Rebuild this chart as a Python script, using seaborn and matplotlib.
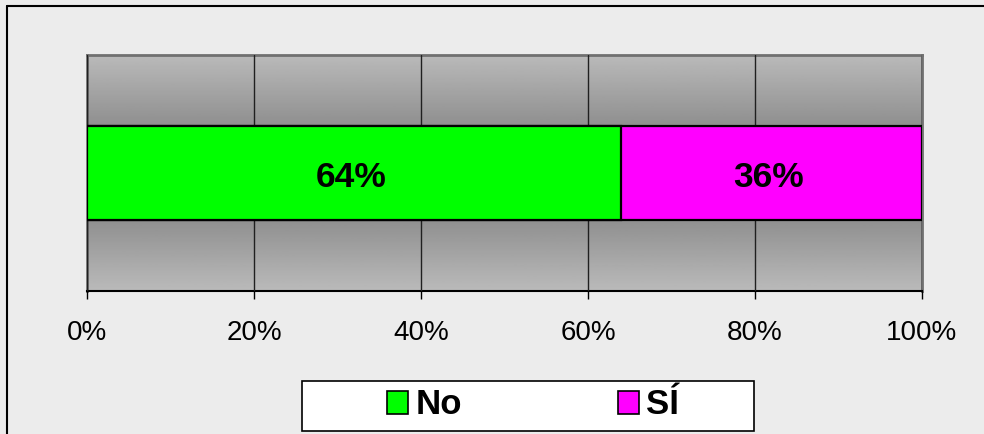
import numpy as np
import pandas as pd
import seaborn as sns
import matplotlib.pyplot as plt
from matplotlib.patches import Patch, Rectangle

# data
categories = ["No", "SÍ"]
percent = [64, 36]
colors = ["#00ff00", "#ff00ff"]
xticks = [0, 20, 40, 60, 80, 100]
xtick_labels = ["0%", "20%", "40%", "60%", "80%", "100%"]

sns.set_theme(style="white")
plt.rcParams['font.family'] = ['Liberation Sans', 'DejaVu Sans']

fig = plt.figure(figsize=(9.84, 4.34), dpi=100)
fig.patch.set_facecolor("#ececec")
ax = fig.add_axes([87/984, 1 - 291/434, (922-87)/984, (291-55)/434])

# gray gradient background of plot area (light at edges, dark at center)
t = np.linspace(0, 1, 200)
grad = 0.73 - 0.28 * (1 - np.abs(2 * t - 1))
ax.imshow(grad[:, None], cmap="gray", vmin=0, vmax=1, aspect="auto",
          extent=(0, 1, 0, 1), transform=ax.transAxes, zorder=0)

# stacked bar: draw cumulative totals from the last segment back
cum = np.cumsum(percent)
df = pd.DataFrame({"cat": categories, "cum": cum, "val": percent})
for i in reversed(range(len(categories))):
    sns.barplot(data=df.iloc[[i]], x="cum", y=[""], orient="h", color=colors[i],
                width=0.4, edgecolor="black", linewidth=1.6, ax=ax, zorder=3,
                saturation=1)
    start = cum[i] - percent[i]
    ax.text(start + percent[i] / 2 - 0.4, 0.02, f"{percent[i]}%", ha="center", va="center",
            fontsize=25.5, fontweight="bold", color="black", zorder=4)

ax.set_xlim(0, 100)
ax.set_ylim(0.5, -0.5)
ax.set_xticks(xticks)
ax.set_xticklabels(xtick_labels, fontsize=20)
ax.set_yticks([])
ax.set_xlabel("")
ax.set_ylabel("")
ax.grid(axis="x", color="#202020", linewidth=1)
ax.set_axisbelow(False)
for line in ax.get_xgridlines():
    line.set_zorder(1)
ax.tick_params(axis="x", length=6, width=1, color="black", direction="out",
               pad=15, bottom=True, labelcolor="black")
for s in ["top", "right", "left"]:
    ax.spines[s].set_color("#707070")
    ax.spines[s].set_linewidth(2)
ax.spines["bottom"].set_color("black")
ax.spines["bottom"].set_linewidth(1.5)

# legend box
fig.add_artist(Rectangle((302/984, 1 - 431/434), (754-302)/984, 50/434,
                         transform=fig.transFigure, facecolor="white",
                         edgecolor="black", linewidth=1.2))
handles = [Patch(facecolor=c, edgecolor="black", linewidth=1.2) for c in colors]
leg = fig.legend(handles, categories, loc="center", bbox_to_anchor=(533/984, 1 - 405/434),
                 ncol=2, frameon=False, prop={"size": 25, "weight": "bold"},
                 handlelength=0.62, handleheight=0.62, handletextpad=0.2,
                 columnspacing=4.5)
for txt in leg.get_texts():
    txt.set_color("black")

# figure border (left and top)
fig.add_artist(plt.Line2D([7/984, 7/984], [0, 1 - 6/434], transform=fig.transFigure,
                          color="black", linewidth=1.5))
fig.add_artist(plt.Line2D([7/984, 1], [1 - 6/434, 1 - 6/434], transform=fig.transFigure,
                          color="black", linewidth=1.5))

fig.savefig("out.png", dpi=100, facecolor=fig.get_facecolor())
